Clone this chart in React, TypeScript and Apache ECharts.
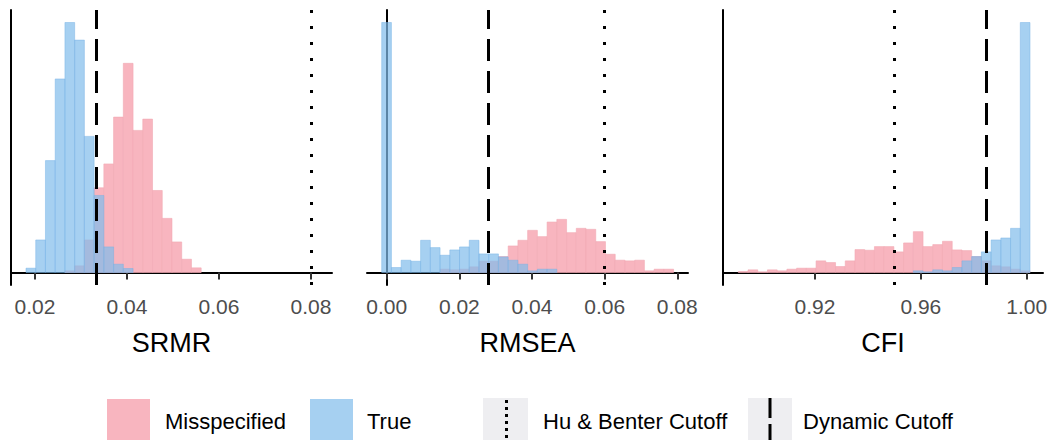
import React, { useEffect, useRef } from "react";
import * as echarts from "echarts";

// ---- data (bin counts) ----
const panelTitles = ["SRMR", "RMSEA", "CFI"];
const binStarts = [0.01804, -0.001386, 0.891];
const binWidths = [0.002116, 0.002679, 0.003675];

const srmrMis = [0, 0, 0, 0, 5, 20, 98, 255, 327, 468, 630, 428, 462, 247, 163, 92, 40, 14];
const srmrTrue = [13, 98, 337, 583, 753, 700, 410, 232, 77, 25, 12, 0, 0, 0, 0, 0, 0, 0];

const rmseaMis = [0, 0, 0, 0, 0, 0, 10, 8, 10, 17, 34, 34, 48, 80, 97, 127, 108, 152, 160, 120, 133, 130, 93, 55, 37, 35, 37, 5, 10, 10];
const rmseaTrue = [753, 15, 37, 34, 97, 75, 52, 68, 77, 97, 56, 56, 47, 37, 25, 5, 10, 10, 0, 0, 0, 0, 0, 0, 0, 0, 0, 0, 0, 0];

const cfiMis = [3, 8, 2, 8, 5, 10, 13, 13, 35, 30, 18, 35, 69, 67, 78, 78, 62, 89, 123, 78, 84, 94, 68, 66, 48, 35, 20, 17, 10, 5];
const cfiTrue = [0, 0, 0, 0, 0, 0, 0, 0, 0, 0, 0, 0, 0, 0, 0, 0, 0, 0, 5, 2, 8, 5, 15, 35, 48, 62, 98, 104, 133, 753];

const xMins = [0.01478, -0.00543, 0.88522];
const xMaxs = [0.08457, 0.08295, 1.00616];
const tickValues = [
  [0.02, 0.04, 0.06, 0.08],
  [0.0, 0.02, 0.04, 0.06, 0.08],
  [0.92, 0.96, 1.0],
];
const huBenter = [0.08, 0.06, 0.95];
const dynamicCut = [0.0333, 0.028, 0.9847];

const legendLabels = ["Misspecified", "True", "Hu & Benter Cutoff", "Dynamic Cutoff"];

const misCounts = [srmrMis, rmseaMis, cfiMis];
const trueCounts = [srmrTrue, rmseaTrue, cfiTrue];

const PINK = "#F8B5BF";
const BLUE = "rgba(128,188,235,0.7)";
const FONT = "Liberation Sans, Arial, Helvetica, sans-serif";

const gridLefts = [11, 367, 723];
const gridWidths = [321, 321, 320];

function binData(counts: number[], p: number) {
  const out: number[][] = [];
  counts.forEach((c, i) => {
    if (c > 0) {
      const x0 = binStarts[p] + i * binWidths[p];
      out.push([x0, x0 + binWidths[p], c]);
    }
  });
  return out;
}

function histSeries(p: number, counts: number[], fill: string, stroke: string, name: string) {
  return {
    type: "custom",
    name,
    xAxisIndex: p,
    yAxisIndex: p,
    encode: { x: [0, 1], y: 2 },
    data: binData(counts, p),
    renderItem: (params: any, api: any) => {
      const a = api.coord([api.value(0), 0]);
      const b = api.coord([api.value(1), api.value(2)]);
      return {
        type: "rect",
        shape: { x: a[0], y: b[1], width: b[0] - a[0], height: a[1] - b[1] },
        style: { fill, stroke, lineWidth: 0.6 },
      };
    },
    z: name === "True" ? 3 : 2,
  };
}

export default function App() {
  const ref = useRef<HTMLDivElement>(null);
  useEffect(() => {
    if (!ref.current) return;
    const chart = echarts.init(ref.current, undefined, { renderer: "svg" });
    const grids: any[] = [];
    const xAxes: any[] = [];
    const yAxes: any[] = [];
    const series: any[] = [];
    for (let p = 0; p < 3; p++) {
      const maxC = Math.max(...misCounts[p], ...trueCounts[p]);
      grids.push({ left: gridLefts[p], top: 10, width: gridWidths[p], height: 275 });
      xAxes.push({
        type: "value",
        gridIndex: p,
        min: xMins[p],
        max: xMaxs[p],
        name: panelTitles[p],
        nameLocation: "middle",
        nameGap: 44,
        nameTextStyle: { fontSize: 27, color: "#000", fontFamily: FONT },
        axisLine: { show: true, lineStyle: { color: "#000", width: 2 } },
        axisTick: { show: true, length: 7, customValues: tickValues[p], lineStyle: { color: "#333", width: 2 } },
        axisLabel: {
          customValues: tickValues[p],
          formatter: (v: number) => v.toFixed(2),
          fontSize: 21,
          color: "#4D4D4D",
          fontFamily: FONT,
          margin: 11,
        },
        splitLine: { show: false },
      });
      yAxes.push({
        type: "value",
        gridIndex: p,
        min: -0.05 * maxC,
        max: 1.05 * maxC,
        axisLine: { show: true, lineStyle: { color: "#000", width: 2 } },
        axisTick: { show: false },
        axisLabel: { show: false },
        splitLine: { show: false },
      });
      series.push(histSeries(p, misCounts[p], PINK, "#F2A9B4", "Misspecified"));
      series.push(histSeries(p, trueCounts[p], BLUE, "rgba(120,180,230,0.8)", "True"));
      series.push({
        type: "line",
        xAxisIndex: p,
        yAxisIndex: p,
        data: [],
        z: 5,
        markLine: {
          silent: true,
          symbol: "none",
          precision: 5,
          label: { show: false },
          data: [
            { xAxis: huBenter[p], lineStyle: { color: "#000", width: 3, type: [3, 13], cap: "butt" } },
            { xAxis: dynamicCut[p], lineStyle: { color: "#000", width: 3, type: [22, 10], cap: "butt" } },
          ],
        },
      });
    }

    const textStyle = (x: number, t: string) => ({
      type: "text",
      x,
      y: 421,
      style: { text: t, fontSize: 22, fill: "#000", fontFamily: FONT, verticalAlign: "middle", align: "left" },
    });

    const graphic: any[] = [
      { type: "rect", shape: { x: 107, y: 399, width: 43, height: 41 }, style: { fill: PINK } },
      textStyle(165, legendLabels[0]),
      { type: "rect", shape: { x: 310, y: 399, width: 43, height: 41 }, style: { fill: "#A6D0F1" } },
      textStyle(367, legendLabels[1]),
      { type: "rect", shape: { x: 483, y: 398, width: 45, height: 42 }, style: { fill: "#EEEEF1" } },
      { type: "line", shape: { x1: 506.5, y1: 400, x2: 506.5, y2: 440 }, style: { stroke: "#000", lineWidth: 3, lineDash: [3, 4] } },
      textStyle(543, legendLabels[2]),
      { type: "rect", shape: { x: 748, y: 398, width: 44, height: 42 }, style: { fill: "#EEEEF1" } },
      { type: "line", shape: { x1: 770, y1: 398, x2: 770, y2: 440 }, style: { stroke: "#000", lineWidth: 3, lineDash: [20, 6] } },
      textStyle(803, legendLabels[3]),
    ];

    chart.setOption({
      animation: false,
      backgroundColor: "#fff",
      grid: grids,
      xAxis: xAxes,
      yAxis: yAxes,
      series,
      graphic,
    });
    return () => chart.dispose();
  }, []);
  return <div ref={ref} style={{ position: "fixed", left: 0, top: 0, width: 1055, height: 443 }} />;
}
